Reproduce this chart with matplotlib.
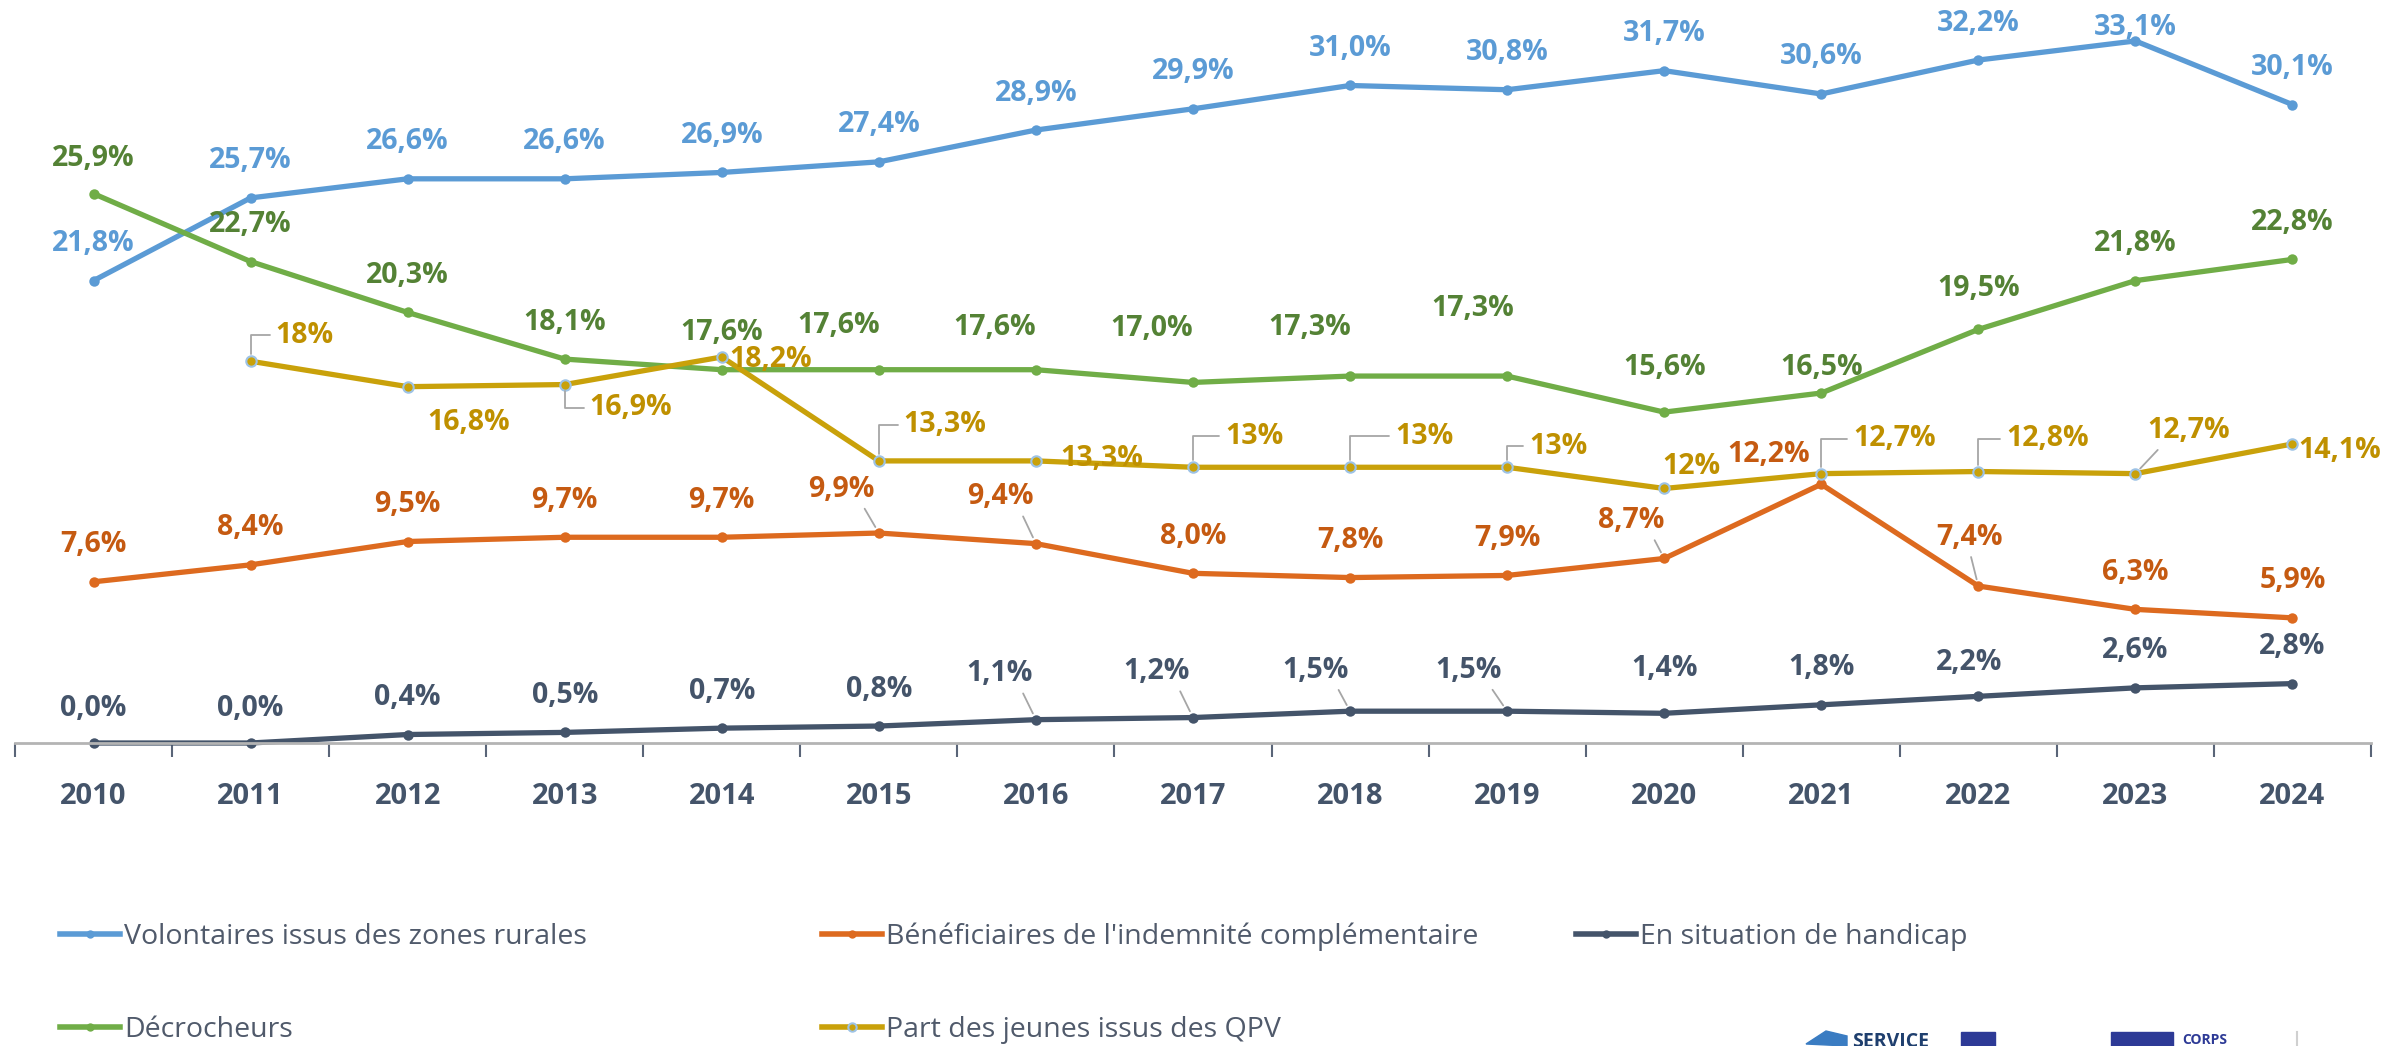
import numpy as np
import matplotlib
matplotlib.use('Agg')
import matplotlib.pyplot as plt
from matplotlib.lines import Line2D
from matplotlib.patches import Polygon, Rectangle

# data (percent)
years = [str(y) for y in range(2010, 2025)]
rurales = [21.8, 25.7, 26.6, 26.6, 26.9, 27.4, 28.9, 29.9, 31.0, 30.8, 31.7, 30.6, 32.2, 33.1, 30.1]
indemnite = [7.6, 8.4, 9.5, 9.7, 9.7, 9.9, 9.4, 8.0, 7.8, 7.9, 8.7, 12.2, 7.4, 6.3, 5.9]
handicap = [0.0, 0.0, 0.4, 0.5, 0.7, 0.8, 1.1, 1.2, 1.5, 1.5, 1.4, 1.8, 2.2, 2.6, 2.8]
decrocheurs = [25.9, 22.7, 20.3, 18.1, 17.6, 17.6, 17.6, 17.0, 17.3, 17.3, 15.6, 16.5, 19.5, 21.8, 22.8]
qpv = [np.nan, 18, 16.8, 16.9, 18.2, 13.3, 13.3, 13, 13, 13, 12, 12.7, 12.8, 12.7, 14.1]
qpv_labels = ['', '18%', '16,8%', '16,9%', '18,2%', '13,3%', '13,3%', '13%', '13%', '13%',
              '12%', '12,7%', '12,8%', '12,7%', '14,1%']

names = ['Volontaires issus des zones rurales', "Bénéficiaires de l'indemnité complémentaire",
         'En situation de handicap', 'Décrocheurs', 'Part des jeunes issus des QPV']


def fmt(v):
    return '{:.1f}%'.format(v).replace('.', ',')


# label placement: index -> (dx px, dy px, leader)
off_rurales = {13: (0, 13, None), 19: (0, 40, None)}
off_indem = {5: (-38, 44, 'diag'), 6: (-36, 47, 'diag'), 10: (-33, 38, 'diag'),
             11: (-53, 30, None), 12: (-9, 49, 'diag')}
off_handi = {0: (0, 35, None), 1: (0, 35, None), 6: (-36, 46, 'diag'), 7: (-36, 46, 'diag'),
             8: (-35, 41, 'diag'), 9: (-39, 41, 'diag'), 10: (0, 45, None), 12: (-9, 34, None)}
off_decro = {0: (0, 35, None), 5: (-40, 44, None), 6: (-41, 42, None), 7: (-41, 54, None),
             8: (-40, 49, None), 9: (-34, 68, None), 10: (0, 45, None), 11: (0, 26, None),
             12: (0, 41, None)}
off_qpv = {1: (54, 26, 'bracket'), 2: (61, -36, None), 3: (66, -23, 'bracket'), 4: (49, -3, None),
           5: (66, 36, 'bracket'), 6: (66, 2, None), 7: (61, 31, 'bracket'), 8: (74, 31, 'bracket'),
           9: (51, 21, 'bracket'), 10: (27, 22, None), 11: (73, 35, 'bracket'),
           12: (69, 33, 'bracket'), 13: (53, 43, 'diag'), 14: (47, -7, None)}

series = [
    (rurales, [fmt(v) for v in rurales], '#5b9bd5', '#5b9bd5', off_rurales, None),
    (indemnite, [fmt(v) for v in indemnite], '#dd6a1f', '#c55a11', off_indem, None),
    (handicap, [fmt(v) for v in handicap], '#44546a', '#44546a', off_handi, None),
    (decrocheurs, [fmt(v) for v in decrocheurs], '#70ad47', '#548235', off_decro, None),
    (qpv, qpv_labels, '#c9a10a', '#bf9000', off_qpv, '#9dc3e6'),
]

plt.rcParams['font.family'] = ['Open Sans', 'DejaVu Sans']

W, H = 2387, 1046
fig = plt.figure(figsize=(W / 100, H / 100), dpi=100)
ax = fig.add_axes([15 / W, 1 - 743 / H, (2371 - 15) / W, 743 / H])

x = np.arange(len(years))
handles = []
for vals, labels, lc, tc, offs, edge in series:
    ln, = ax.plot(x, vals, color=lc, lw=3.8, marker='o', ms=7.5,
                  mfc=lc, mec=edge if edge else lc, mew=1.5 if edge else 0,
                  clip_on=False, solid_capstyle='round')
    handles.append(ln)
    for i, v in enumerate(vals):
        if np.isnan(v):
            continue
        dx, dy, leader = offs.get(i, (0, 37, None))
        arrow = None
        if leader == 'bracket':
            arrow = dict(arrowstyle='-', color='#a6a6a6', lw=1.3, shrinkA=2, shrinkB=5,
                         relpos=(0, 0.5), connectionstyle='angle,angleA=0,angleB=90,rad=0')
        elif leader == 'diag':
            rp = (0.8, 0.05) if dx < -15 else ((0.2, 0.05) if dx > 15 else (0.5, 0.05))
            arrow = dict(arrowstyle='-', color='#a6a6a6', lw=1.3, shrinkA=2, shrinkB=5,
                         relpos=rp)
        ax.annotate(labels[i], xy=(i, v), xytext=(dx, dy), textcoords='offset pixels',
                    ha='center', va='center', fontsize=20.5, fontweight='bold',
                    color=tc, arrowprops=arrow, zorder=5)

ax.set_xlim(-0.5, 14.5)
ax.set_ylim(0, 743 / 21.21)
for s in ['top', 'left', 'right']:
    ax.spines[s].set_visible(False)
ax.spines['bottom'].set_color('#b4b4b4')
ax.spines['bottom'].set_linewidth(2)
ax.set_yticks([])
ax.set_xticks(x)
ax.set_xticklabels(years, fontsize=21, fontweight='bold', color='#44546a')
ax.tick_params(axis='x', which='major', length=0, pad=28)
ax.set_xticks(np.arange(-0.5, 15, 1), minor=True)
ax.tick_params(axis='x', which='minor', length=10, width=1.5, color='#5a6578')

# legend entries laid out as in the original (3 + 2)
leg_pos = [(60, 937), (822, 937), (1576, 937), (60, 1030), (822, 1030)]
for h, name, (px, py) in zip(handles, names, leg_pos):
    hl = Line2D([], [], color=h.get_color(), lw=4, marker='o', ms=6,
                mfc=h.get_markerfacecolor(), mec=h.get_markeredgecolor(), mew=h.get_markeredgewidth())
    fig.legend([hl], [name], loc='center left', bbox_to_anchor=(px / W, 1 - py / H),
               frameon=False, borderpad=0, borderaxespad=0, handlelength=2.1,
               handletextpad=0.15, prop={'size': 20.5}, labelcolor='#505a6b')

# logos bottom right (cut off by the frame, as in the source)
fig.patches.append(Polygon([(1806 / W, 1 - 1044 / H), (1826 / W, 1 - 1031 / H),
                            (1847 / W, 1 - 1036 / H), (1847 / W, 0)],
                           closed=True, transform=fig.transFigure, color='#3a7cc2'))
fig.text(1852 / W, 1 - 1032 / H, 'SERVICE', fontsize=14, fontweight='bold',
         color='#1f3f6e', va='top', ha='left')
fig.patches.append(Rectangle((1961 / W, 0), 34 / W, 14 / H, transform=fig.transFigure,
                             color='#2d3a96'))
fig.patches.append(Rectangle((2111 / W, 0), 62 / W, 14 / H, transform=fig.transFigure,
                             color='#2d3a96'))
fig.text(2182 / W, 1 - 1033 / H, 'CORPS', fontsize=10, fontweight='bold',
         color='#2d3a96', va='top', ha='left')
fig.add_artist(Line2D([2297 / W, 2297 / W], [0, 14 / H], color='#d0d0d0', lw=1.5,
                      transform=fig.transFigure))

fig.savefig('out.png', dpi=100, facecolor='white')
